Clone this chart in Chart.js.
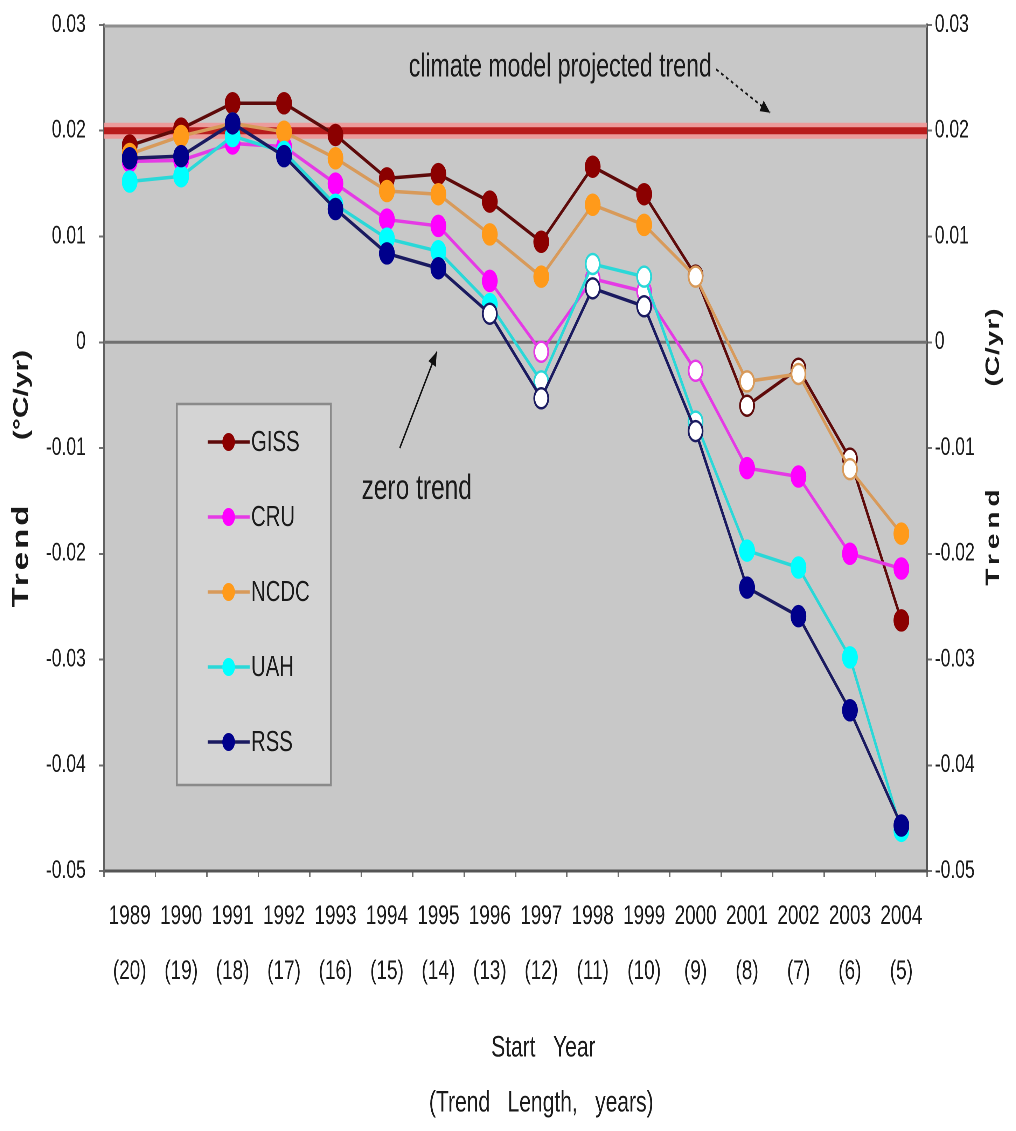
<!DOCTYPE html>
<html>
<head>
<meta charset="utf-8">
<script src="https://cdn.jsdelivr.net/npm/chart.js@4.4.0/dist/chart.umd.min.js"></script>
<style>
html,body{margin:0;padding:0;background:#fff;overflow:hidden;}
#wrap{width:1016px;height:1131px;overflow:hidden;}
#trendChart{transform:scaleX(0.70021);transform-origin:0 0;}
</style>
</head>
<body>
<div id="wrap"><canvas id="trendChart" width="1451" height="1131"></canvas></div>
<script>
// the original picture is squeezed sideways, so the chart is drawn 1451 wide
// and scaled down to 1016 with css

// categories
const startYears = ['1989','1990','1991','1992','1993','1994','1995','1996','1997','1998','1999','2000','2001','2002','2003','2004'];
const trendLengths = ['(20)','(19)','(18)','(17)','(16)','(15)','(14)','(13)','(12)','(11)','(10)','(9)','(8)','(7)','(6)','(5)'];

// y axis ticks
const yTickValues = [0.03, 0.02, 0.01, 0, -0.01, -0.02, -0.03, -0.04, -0.05];
const yTickLabels = ['0.03','0.02','0.01','0','-0.01','-0.02','-0.03','-0.04','-0.05'];

// trends, degC per year
const giss = [0.0186, 0.0202, 0.0226, 0.0226, 0.0196, 0.0155, 0.0159, 0.0133, 0.0095, 0.0166, 0.0140, 0.0063, -0.0060, -0.0025, -0.0110, -0.0263];
const cru  = [0.0171, 0.0172, 0.0188, 0.0185, 0.0150, 0.0116, 0.0110, 0.0058, -0.0009, 0.0060, 0.0048, -0.0027, -0.0119, -0.0127, -0.0200, -0.0214];
const ncdc = [0.0178, 0.0195, 0.0207, 0.0199, 0.0174, 0.0143, 0.0140, 0.0102, 0.0062, 0.0130, 0.0111, 0.0062, -0.0037, -0.0030, -0.0120, -0.0181];
const uah  = [0.0152, 0.0157, 0.0195, 0.0180, 0.0130, 0.0098, 0.0086, 0.0036, -0.0037, 0.0074, 0.0062, -0.0075, -0.0197, -0.0213, -0.0298, -0.0462];
const rss  = [0.0174, 0.0176, 0.0207, 0.0176, 0.0126, 0.0084, 0.0070, 0.0027, -0.0053, 0.0051, 0.0034, -0.0084, -0.0232, -0.0259, -0.0348, -0.0457];

// which points are not significant (drawn hollow)
const gissOpen = [11, 12, 13, 14];
const cruOpen  = [8, 9, 10, 11];
const ncdcOpen = [11, 12, 13, 14];
const uahOpen  = [8, 9, 10, 11];
const rssOpen  = [7, 8, 9, 10, 11];

const modelTrend = 0.02;

const sans = "'Liberation Sans', Arial, sans-serif";

function makeSet(label, data, open, lineColor, dotColor, order) {
  return {
    label: label,
    data: data,
    borderColor: lineColor,
    borderWidth: 3.5,
    tension: 0,
    order: order,
    pointRadius: 10,
    pointHoverRadius: 10,
    pointBorderWidth: 2.5,
    pointBorderColor: data.map((v, i) => open.includes(i) ? lineColor : dotColor),
    pointBackgroundColor: data.map((v, i) => open.includes(i) ? '#ffffff' : dotColor),
    dotColor: dotColor
  };
}

const datasets = [
  makeSet('GISS', giss, gissOpen, '#5e0a0a', '#8b0000', 5),
  makeSet('CRU', cru, cruOpen, '#e53ae5', '#ff00ff', 4),
  makeSet('NCDC', ncdc, ncdcOpen, '#d89a5a', '#ff9a1a', 3),
  makeSet('UAH', uah, uahOpen, '#2ad8d8', '#00ffff', 2),
  makeSet('RSS', rss, rssOpen, '#1a1a60', '#00008b', 1)
];

function arrow(ctx, x1, y1, x2, y2, dashed) {
  ctx.save();
  ctx.strokeStyle = '#111';
  ctx.fillStyle = '#111';
  ctx.lineWidth = 2;
  if (dashed) ctx.setLineDash([4, 4]);
  ctx.beginPath();
  ctx.moveTo(x1, y1);
  ctx.lineTo(x2, y2);
  ctx.stroke();
  ctx.setLineDash([]);
  const ang = Math.atan2(y2 - y1, x2 - x1);
  const len = 14, wid = 6;
  ctx.beginPath();
  ctx.moveTo(x2, y2);
  ctx.lineTo(x2 - len * Math.cos(ang) + wid * Math.sin(ang), y2 - len * Math.sin(ang) - wid * Math.cos(ang));
  ctx.lineTo(x2 - len * Math.cos(ang) - wid * Math.sin(ang), y2 - len * Math.sin(ang) + wid * Math.cos(ang));
  ctx.closePath();
  ctx.fill();
  ctx.restore();
}

const decorPlugin = {
  id: 'decor',
  beforeDraw(chart) {
    const {ctx, chartArea: a} = chart;
    ctx.save();
    ctx.fillStyle = '#c8c8c8';
    ctx.fillRect(a.left, a.top, a.right - a.left, a.bottom - a.top);
    ctx.restore();
  },
  beforeDatasetsDraw(chart) {
    const {ctx, chartArea: a, scales} = chart;
    const y = scales.y;
    ctx.save();
    // top frame
    ctx.strokeStyle = '#8e8e8e';
    ctx.lineWidth = 3;
    ctx.beginPath();
    ctx.moveTo(a.left, a.top + 1);
    ctx.lineTo(a.right, a.top + 1);
    ctx.stroke();
    // zero line
    const y0 = y.getPixelForValue(0);
    ctx.strokeStyle = '#707070';
    ctx.lineWidth = 3;
    ctx.beginPath();
    ctx.moveTo(a.left, y0);
    ctx.lineTo(a.right, y0);
    ctx.stroke();
    // model projected trend
    const ym = y.getPixelForValue(modelTrend);
    ctx.strokeStyle = 'rgba(240,150,150,0.9)';
    ctx.lineWidth = 16;
    ctx.beginPath();
    ctx.moveTo(a.left, ym);
    ctx.lineTo(a.right, ym);
    ctx.stroke();
    ctx.strokeStyle = '#b81c1c';
    ctx.lineWidth = 7;
    ctx.beginPath();
    ctx.moveTo(a.left, ym);
    ctx.lineTo(a.right, ym);
    ctx.stroke();
    ctx.restore();
  },
  afterDraw(chart) {
    const {ctx, chartArea: a, scales} = chart;
    const x = scales.x, y = scales.y;
    ctx.save();

    // legend box
    const lx = a.left + 104, ly = a.top + 379, lw = 220, lh = 381;
    ctx.fillStyle = '#d4d4d4';
    ctx.fillRect(lx, ly, lw, lh);
    ctx.strokeStyle = '#8a8a8a';
    ctx.lineWidth = 2.5;
    ctx.strokeRect(lx, ly, lw, lh);
    chart.data.datasets.forEach((ds, i) => {
      const cy = ly + 38 + i * 75;
      ctx.strokeStyle = ds.borderColor;
      ctx.lineWidth = 3.5;
      ctx.beginPath();
      ctx.moveTo(lx + 44, cy);
      ctx.lineTo(lx + 104, cy);
      ctx.stroke();
      ctx.fillStyle = ds.dotColor;
      ctx.beginPath();
      ctx.arc(lx + 74, cy, 9, 0, Math.PI * 2);
      ctx.fill();
      ctx.fillStyle = '#1a1a1a';
      ctx.font = '29px ' + sans;
      ctx.textAlign = 'left';
      ctx.textBaseline = 'middle';
      ctx.fillText(ds.label, lx + 106, cy + 1);
    });

    // annotations
    ctx.fillStyle = '#1a1a1a';
    ctx.textAlign = 'center';
    ctx.textBaseline = 'middle';
    ctx.font = '33px ' + sans;
    ctx.fillText('climate model projected trend', x.getPixelForValue(8.37), y.getPixelForValue(0.0260));
    arrow(ctx, x.getPixelForValue(11.4), y.getPixelForValue(0.0258), x.getPixelForValue(12.45), y.getPixelForValue(0.0217), true);
    ctx.font = '35px ' + sans;
    ctx.fillText('zero trend', x.getPixelForValue(5.58), y.getPixelForValue(-0.0139));
    arrow(ctx, x.getPixelForValue(5.25), y.getPixelForValue(-0.0100), x.getPixelForValue(5.97), y.getPixelForValue(-0.0009), false);

    // x axis title
    ctx.font = '30px ' + sans;
    ctx.fillText('Start   Year', 776, 1048);
    ctx.fillText('(Trend   Length,   years)', 773, 1103);

    // y axis titles
    const rot = (text, font, cx, cy, spacing) => {
      ctx.save();
      ctx.font = font;
      ctx.translate(cx, cy);
      ctx.rotate(-Math.PI / 2);
      ctx.letterSpacing = spacing;
      ctx.fillText(text, 0, 0);
      ctx.restore();
    };
    rot('Trend', 'bold 33px ' + sans, 31, 555, '3px');
    rot('(\u00B0C/yr)', 'bold 30px ' + sans, 31, 395, '0px');
    rot('Trend', 'bold 28px ' + sans, 1419, 535, '5px');
    rot('(C/yr)', 'bold 28px ' + sans, 1419, 347, '1px');
    ctx.restore();
  }
};

const yTickFont = {family: sans, size: 25};

function fitY(width) {
  return function(scale) {
    scale.width = width;
    scale.paddingTop = 0;
    scale.paddingBottom = 0;
  };
}

new Chart(document.getElementById('trendChart'), {
  type: 'line',
  data: {
    labels: startYears.map((yr, i) => [yr, trendLengths[i]]),
    datasets: datasets
  },
  options: {
    responsive: false,
    devicePixelRatio: 2,
    animation: false,
    layout: {padding: {top: 25, left: 0, right: 0, bottom: 0}},
    plugins: {
      legend: {display: false},
      tooltip: {enabled: false}
    },
    scales: {
      x: {
        offset: true,
        grid: {drawOnChartArea: false, offset: true, tickLength: 6, color: '#707070', lineWidth: 2},
        border: {color: '#555555', width: 3},
        ticks: {
          color: '#1a1a1a',
          padding: 12,
          maxRotation: 0,
          autoSkip: false,
          font: {family: sans, size: 27, lineHeight: 2.04}
        },
        afterFit(scale) {
          scale.height = 260;
          scale.paddingLeft = 0;
          scale.paddingRight = 0;
        }
      },
      y: {
        position: 'left',
        min: -0.05,
        max: 0.03,
        afterBuildTicks(scale) { scale.ticks = yTickValues.map(v => ({value: v})); },
        grid: {drawOnChartArea: false, tickLength: 7, color: '#707070', lineWidth: 2},
        border: {color: '#606060', width: 3},
        ticks: {
          color: '#1a1a1a',
          padding: 19,
          font: yTickFont,
          callback: (v, i) => yTickLabels[i]
        },
        afterFit: fitY(148.5)
      },
      y2: {
        position: 'right',
        min: -0.05,
        max: 0.03,
        afterBuildTicks(scale) { scale.ticks = yTickValues.map(v => ({value: v})); },
        grid: {drawOnChartArea: false, tickLength: 7, color: '#707070', lineWidth: 2},
        border: {color: '#555555', width: 3},
        ticks: {
          color: '#1a1a1a',
          padding: 4,
          font: yTickFont,
          callback: (v, i) => yTickLabels[i]
        },
        afterFit: fitY(127)
      }
    }
  },
  plugins: [decorPlugin]
});
</script>
</body>
</html>
